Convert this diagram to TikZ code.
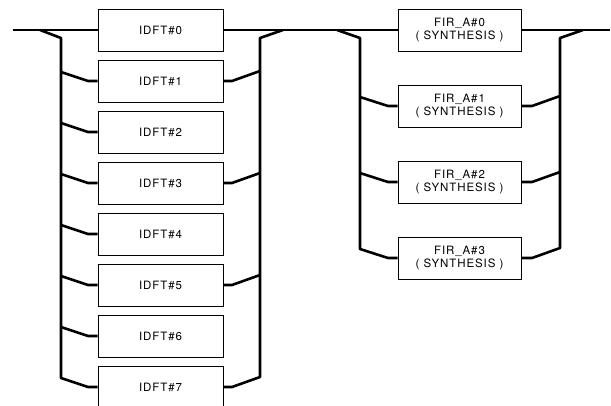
\documentclass[tikz,border=0pt]{standalone}
\usepackage{fontspec}
\newfontfamily\blockfont{TeX Gyre Heros}[LetterSpace=8]
\usepackage{tikz}

\tikzset{
  blockbox/.style={draw,line width=0.8pt,inner sep=0pt,align=center,
    minimum height=42pt,font=\blockfont\fontsize{11.5}{12.5}\selectfont},
  bus/.style={line width=2.6pt,line join=round}
}

\begin{document}
\begin{tikzpicture}[x=1pt,y=-1pt]
  \clip (0,0) rectangle (611,405);
  % IDFT stack
  \foreach \k in {0,...,7}
    \node[blockbox,minimum width=125pt] (I\k) at (160.5,30+51*\k) {IDFT\#\k};
  % FIR stack
  \foreach \k in {0,...,3}
    \node[blockbox,minimum width=123pt] (F\k) at (459.5,30+76*\k) {FIR\_A\#\k\\( SYNTHESIS )};
  \coordinate (In)  at (13,30);
  \coordinate (Out) at (610,30);
  % main line
  \draw[bus] (In) -- (I0.west);
  \draw[bus] (I0.east) -- (F0.west);
  \draw[bus] (F0.east) -- (Out);
  % IDFT buses
  \draw[bus] (40,30) -- (61,38) -- (61,378) -- (88,387) -- (I7.west);
  \draw[bus] (283,30) -- (260,38) -- (260,377) -- (232,387) -- (I7.east);
  \foreach \k in {1,...,6}
    \draw[bus] (61,21+51*\k) -- (88,30+51*\k) -- (I\k.west);
  \foreach \k in {1,3,5}
    \draw[bus] (260,20+51*\k) -- (232,30+51*\k) -- (I\k.east);
  % FIR buses
  \draw[bus] (337,30) -- (360,38) -- (360,249) -- (388,258) -- (F3.west);
  \draw[bus] (583,30) -- (560,38) -- (560,248) -- (532,258) -- (F3.east);
  \foreach \k in {1,2} {
    \draw[bus] (360,21+76*\k) -- (388,30+76*\k) -- (F\k.west);
    \draw[bus] (560,20+76*\k) -- (532,30+76*\k) -- (F\k.east);
  }
\end{tikzpicture}
\end{document}
